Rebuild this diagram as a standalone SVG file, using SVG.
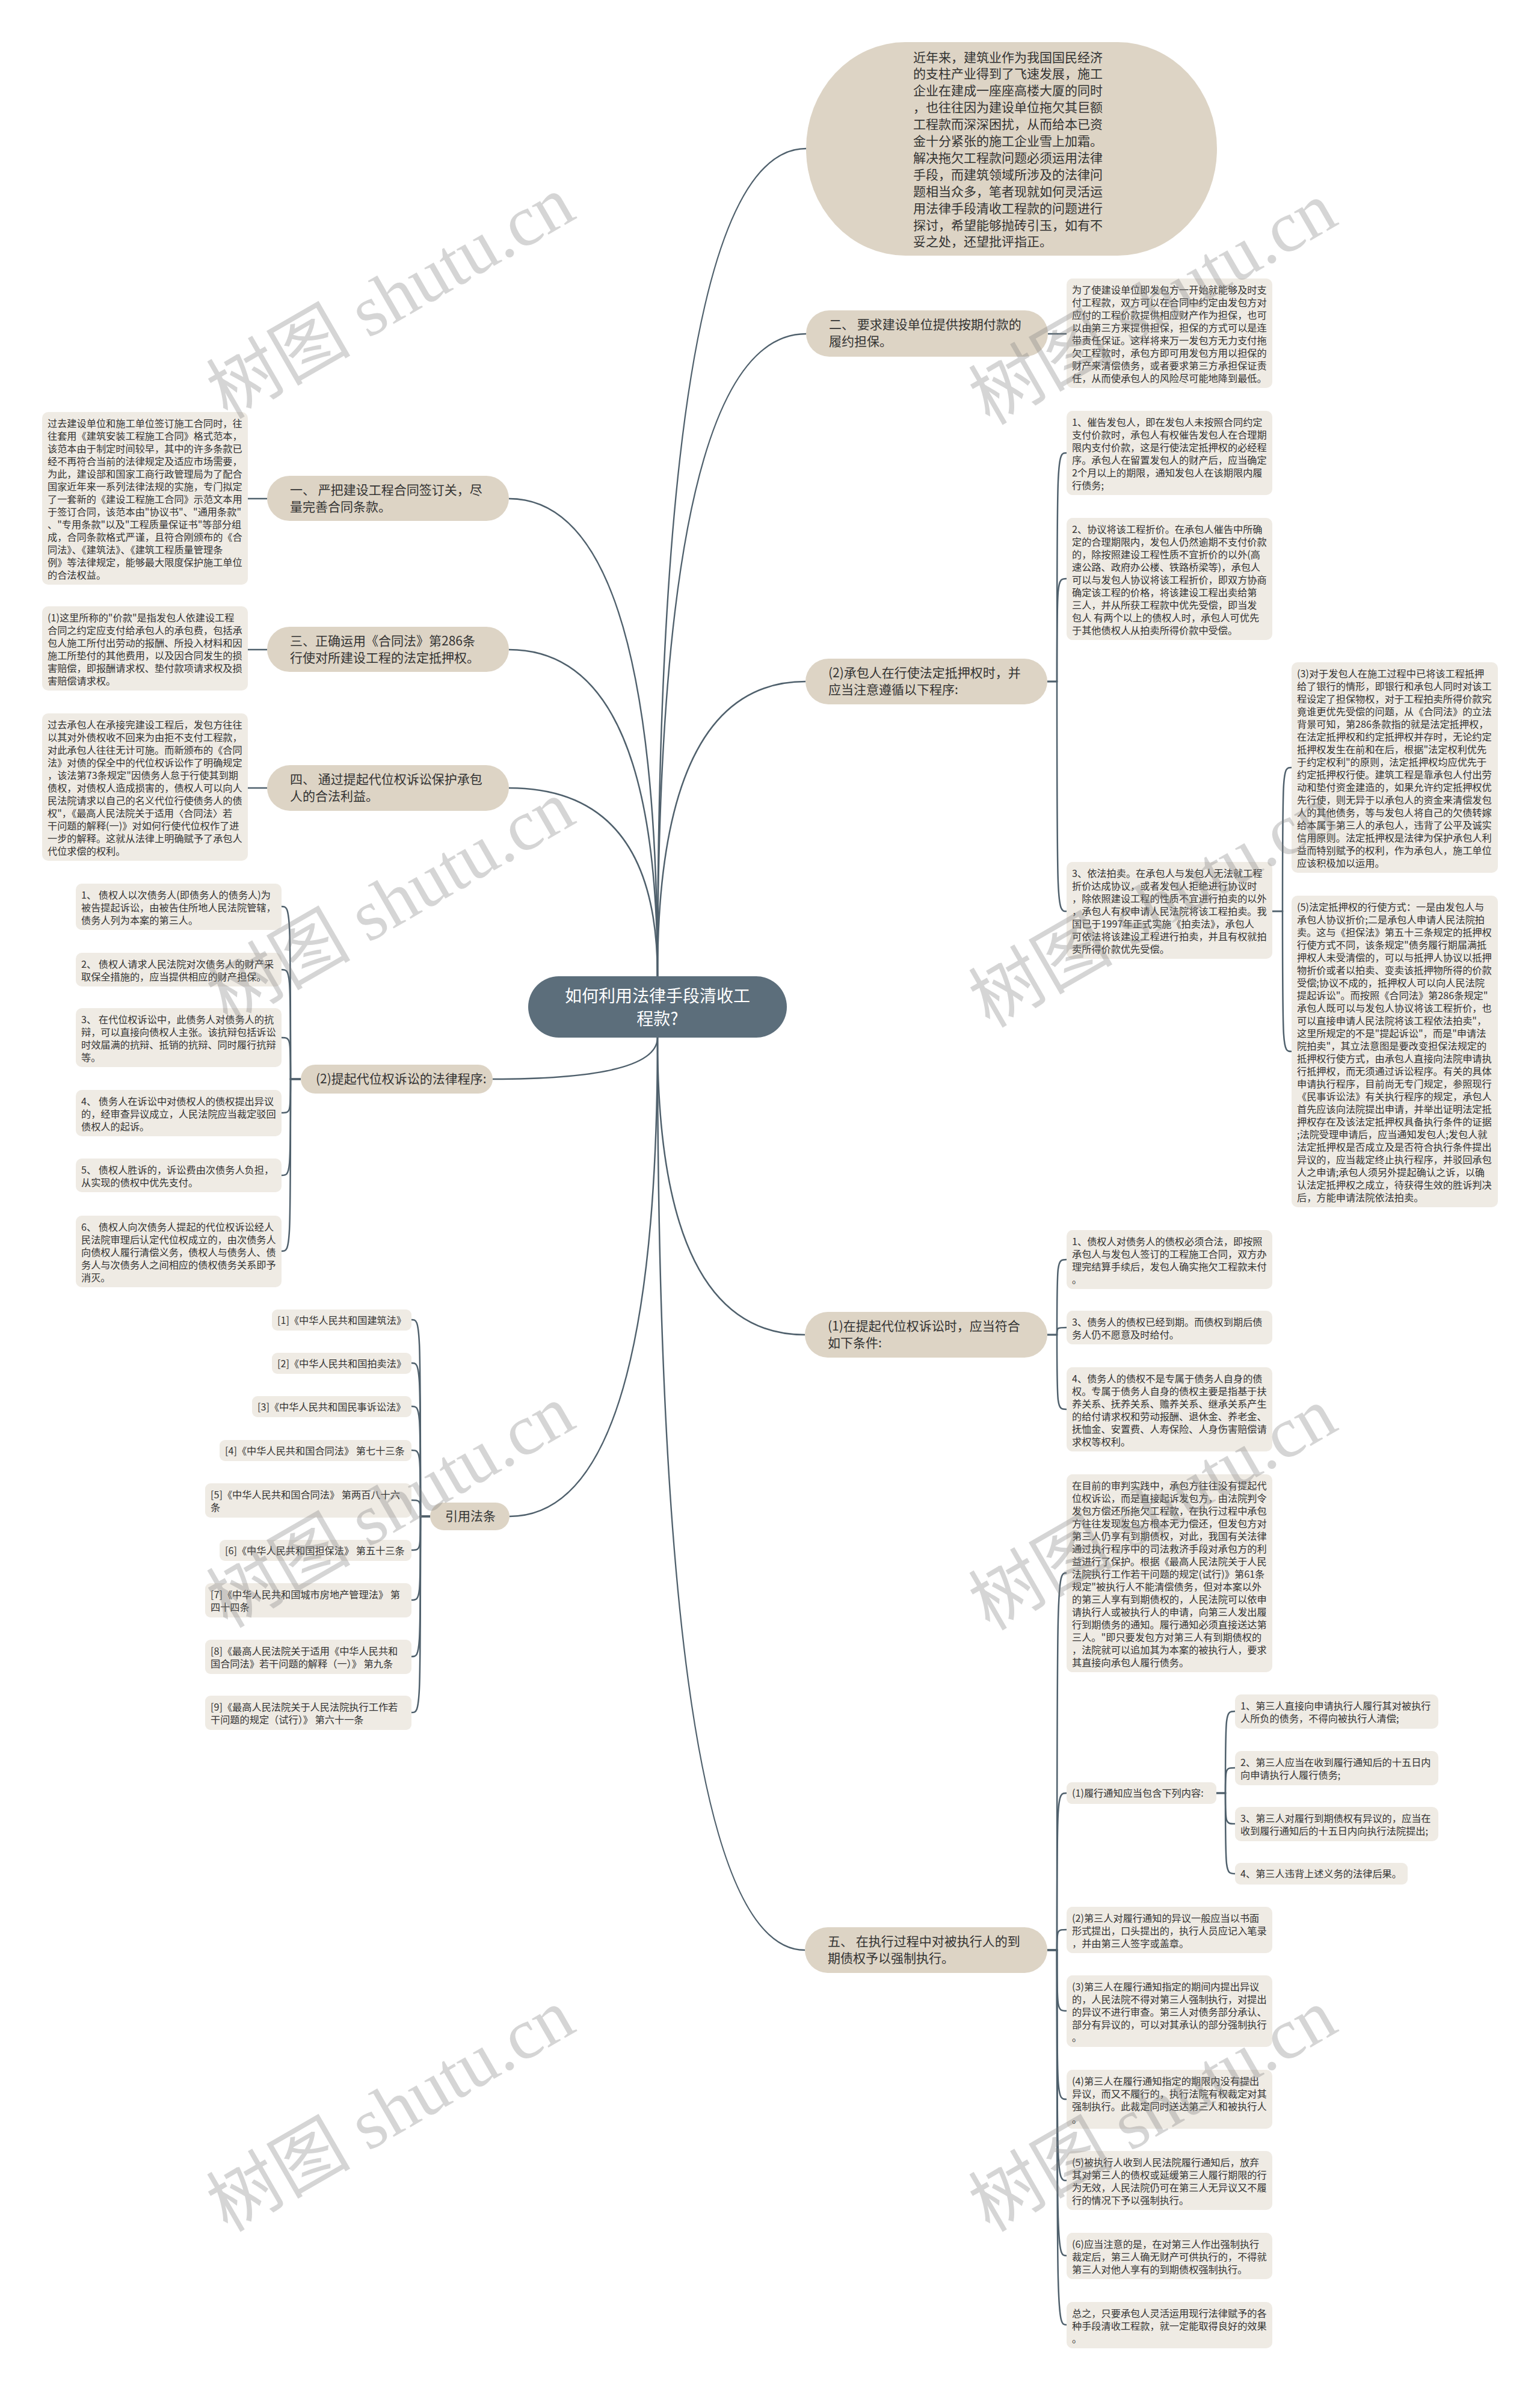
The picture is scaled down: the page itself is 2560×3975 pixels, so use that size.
<svg xmlns="http://www.w3.org/2000/svg" width="2560" height="3975" viewBox="0 0 2560 3975">
<style>
.nb{fill:#ddd4c5}
.db{fill:#efebe4}
.t{font-family:"Noto Sans CJK SC","Noto Sans",sans-serif;fill:#333}
.d{font-size:16.2px}
.n{font-size:21px}
.c{fill:none;stroke:#4f606c;stroke-width:2.5}
.wm{font-family:"Liberation Serif","Noto Sans CJK SC",serif;font-size:120px;fill:#808080;fill-opacity:0.33}
</style>
<rect width="2560" height="3975" fill="#ffffff"/>
<g id="connectors">
<path class="c" d="M1093 1623 Q1093 247 1340 247"/>
<path class="c" d="M1093 1623 Q1093 555 1340 555"/>
<path class="c" d="M1093 1623 Q1093 1133 1339 1133"/>
<path class="c" d="M1093 1623 Q1093 829 846 829"/>
<path class="c" d="M1093 1623 Q1093 1080 846 1080"/>
<path class="c" d="M1093 1623 Q1093 1310 846 1310"/>
<path class="c" d="M1093 1725 Q1093 1794 819 1794"/>
<path class="c" d="M1093 1725 Q1093 2521 847 2521"/>
<path class="c" d="M1093 1725 Q1093 2219 1338 2219"/>
<path class="c" d="M1093 1725 Q1093 3242 1338 3242"/>
<path class="c" d="M1742 555 H1773"/>
<path class="c" d="M412 829 H444"/>
<path class="c" d="M412 1080 H444"/>
<path class="c" d="M412 1310 H444"/>
<path class="c" d="M1741 1133 H1757 C1757 753 1757 753 1773 753"/>
<path class="c" d="M1741 1133 H1757 C1757 962 1757 962 1773 962"/>
<path class="c" d="M1741 1133 H1757 C1757 1515 1757 1515 1773 1515"/>
<path class="c" d="M2115 1515 H2132 C2132 1276 2132 1276 2147 1276"/>
<path class="c" d="M2115 1515 H2132 C2132 1748 2132 1748 2147 1748"/>
<path class="c" d="M1741 2219 H1757 C1757 2094 1757 2094 1773 2094"/>
<path class="c" d="M1741 2219 H1757 C1757 2207 1757 2207 1773 2207"/>
<path class="c" d="M1741 2219 H1757 C1757 2343 1757 2343 1773 2343"/>
<path class="c" d="M1741 3242 H1757 C1757 2615 1757 2615 1773 2615"/>
<path class="c" d="M1741 3242 H1757 C1757 2981 1757 2981 1773 2981"/>
<path class="c" d="M1741 3242 H1757 C1757 3208 1757 3208 1773 3208"/>
<path class="c" d="M1741 3242 H1757 C1757 3343 1757 3343 1773 3343"/>
<path class="c" d="M1741 3242 H1757 C1757 3490 1757 3490 1773 3490"/>
<path class="c" d="M1741 3242 H1757 C1757 3625 1757 3625 1773 3625"/>
<path class="c" d="M1741 3242 H1757 C1757 3750 1757 3750 1773 3750"/>
<path class="c" d="M1741 3242 H1757 C1757 3865 1757 3865 1773 3865"/>
<path class="c" d="M2022 2981 H2037 C2037 2845 2037 2845 2053 2845"/>
<path class="c" d="M2022 2981 H2037 C2037 2939 2037 2939 2053 2939"/>
<path class="c" d="M2022 2981 H2037 C2037 3032 2037 3032 2053 3032"/>
<path class="c" d="M2022 2981 H2037 C2037 3115 2037 3115 2053 3115"/>
<path class="c" d="M500 1794 H483 C483 1507 483 1507 468 1507"/>
<path class="c" d="M500 1794 H483 C483 1612 483 1612 468 1612"/>
<path class="c" d="M500 1794 H483 C483 1725 483 1725 468 1725"/>
<path class="c" d="M500 1794 H483 C483 1850 483 1850 468 1850"/>
<path class="c" d="M500 1794 H483 C483 1954 483 1954 468 1954"/>
<path class="c" d="M500 1794 H483 C483 2080 483 2080 468 2080"/>
<path class="c" d="M715 2521 H699 C699 2194 699 2194 684 2194"/>
<path class="c" d="M715 2521 H699 C699 2266 699 2266 684 2266"/>
<path class="c" d="M715 2521 H699 C699 2338 699 2338 684 2338"/>
<path class="c" d="M715 2521 H699 C699 2411 699 2411 684 2411"/>
<path class="c" d="M715 2521 H699 C699 2494 699 2494 684 2494"/>
<path class="c" d="M715 2521 H699 C699 2577 699 2577 684 2577"/>
<path class="c" d="M715 2521 H699 C699 2660 699 2660 684 2660"/>
<path class="c" d="M715 2521 H699 C699 2754 699 2754 684 2754"/>
<path class="c" d="M715 2521 H699 C699 2847 699 2847 684 2847"/>
</g>

<g id="root">
<rect x="878" y="1623" width="430" height="102" rx="51" fill="#5c6e7b"/>
<text class="t" style="font-size:28px;fill:#ffffff" text-anchor="middle"><tspan x="1093" y="1666">如何利用法律手段清收工</tspan><tspan x="1093" y="1704">程款?</tspan></text>
</g>

<g id="intro">
<rect class="nb" x="1340" y="70" width="683" height="355" rx="165" ry="177"/>
<text class="t n"><tspan x="1518" y="102.5">近年来，建筑业作为我国国民经济</tspan><tspan x="1518" y="130.4">的支柱产业得到了飞速发展，施工</tspan><tspan x="1518" y="158.3">企业在建成一座座高楼大厦的同时</tspan><tspan x="1518" y="186.2">，也往往因为建设单位拖欠其巨额</tspan><tspan x="1518" y="214.1">工程款而深深困扰，从而给本已资</tspan><tspan x="1518" y="242">金十分紧张的施工企业雪上加霜。</tspan><tspan x="1518" y="269.9">解决拖欠工程款问题必须运用法律</tspan><tspan x="1518" y="297.8">手段，而建筑领域所涉及的法律问</tspan><tspan x="1518" y="325.7">题相当众多，笔者现就如何灵活运</tspan><tspan x="1518" y="353.6">用法律手段清收工程款的问题进行</tspan><tspan x="1518" y="381.5">探讨，希望能够抛砖引玉，如有不</tspan><tspan x="1518" y="409.4">妥之处，还望批评指正。</tspan></text>
</g>

<g id="n2">
<rect class="nb" x="1340" y="516" width="402" height="77" rx="38.5"/>
<text class="t n"><tspan x="1378" y="547">二、 要求建设单位提供按期付款的</tspan><tspan x="1378" y="575">履约担保。</tspan></text>
</g>
<g id="r0">
<rect class="db" x="1773" y="463" width="342" height="182" rx="10"/>
<text class="t d"><tspan x="1782" y="488">为了使建设单位即发包方一开始就能够及时支</tspan><tspan x="1782" y="509">付工程款，双方可以在合同中约定由发包方对</tspan><tspan x="1782" y="530">应付的工程价款提供相应财产作为担保，也可</tspan><tspan x="1782" y="551">以由第三方来提供担保，担保的方式可以是连</tspan><tspan x="1782" y="572">带责任保证。这样将来万一发包方无力支付拖</tspan><tspan x="1782" y="593">欠工程款时，承包方即可用发包方用以担保的</tspan><tspan x="1782" y="614">财产来清偿债务，或者要求第三方承担保证责</tspan><tspan x="1782" y="635">任，从而使承包人的风险尽可能地降到最低。</tspan></text>
</g>

<g id="n1">
<rect class="nb" x="444" y="791" width="402" height="75" rx="37.5"/>
<text class="t n"><tspan x="482" y="822">一、 严把建设工程合同签订关，尽</tspan><tspan x="482" y="850">量完善合同条款。</tspan></text>
</g>
<g id="l0">
<rect class="db" x="70" y="685" width="342" height="287" rx="10"/>
<text class="t d"><tspan x="79" y="710">过去建设单位和施工单位签订施工合同时，往</tspan><tspan x="79" y="731">往套用《建筑安装工程施工合同》格式范本，</tspan><tspan x="79" y="752">该范本由于制定时间较早，其中的许多条款已</tspan><tspan x="79" y="773">经不再符合当前的法律规定及适应市场需要，</tspan><tspan x="79" y="794">为此，建设部和国家工商行政管理局为了配合</tspan><tspan x="79" y="815">国家近年来一系列法律法规的实施，专门拟定</tspan><tspan x="79" y="836">了一套新的《建设工程施工合同》示范文本用</tspan><tspan x="79" y="857">于签订合同，该范本由"协议书"、"通用条款"</tspan><tspan x="79" y="878">、"专用条款"以及"工程质量保证书"等部分组</tspan><tspan x="79" y="899">成，合同条款格式严谨，且符合刚颁布的《合</tspan><tspan x="79" y="920">同法》、《建筑法》、《建筑工程质量管理条</tspan><tspan x="79" y="941">例》等法律规定，能够最大限度保护施工单位</tspan><tspan x="79" y="962">的合法权益。</tspan></text>
</g>

<g id="n3">
<rect class="nb" x="444" y="1042" width="402" height="75" rx="37.5"/>
<text class="t n"><tspan x="482" y="1073">三、正确运用《合同法》第286条</tspan><tspan x="482" y="1101">行使对所建设工程的法定抵押权。</tspan></text>
</g>
<g id="l1">
<rect class="db" x="70" y="1008" width="342" height="140" rx="10"/>
<text class="t d"><tspan x="79" y="1033">(1)这里所称的"价款"是指发包人依建设工程</tspan><tspan x="79" y="1054">合同之约定应支付给承包人的承包费，包括承</tspan><tspan x="79" y="1075">包人施工所付出劳动的报酬、所投入材料和因</tspan><tspan x="79" y="1096">施工所垫付的其他费用，以及因合同发生的损</tspan><tspan x="79" y="1117">害赔偿，即报酬请求权、垫付款项请求权及损</tspan><tspan x="79" y="1138">害赔偿请求权。</tspan></text>
</g>

<g id="n4">
<rect class="nb" x="444" y="1272" width="402" height="76" rx="38"/>
<text class="t n"><tspan x="482" y="1303">四、 通过提起代位权诉讼保护承包</tspan><tspan x="482" y="1331">人的合法利益。</tspan></text>
</g>
<g id="l2">
<rect class="db" x="70" y="1186" width="342" height="245" rx="10"/>
<text class="t d"><tspan x="79" y="1211">过去承包人在承接完建设工程后，发包方往往</tspan><tspan x="79" y="1232">以其对外债权收不回来为由拒不支付工程款，</tspan><tspan x="79" y="1253">对此承包人往往无计可施。而新颁布的《合同</tspan><tspan x="79" y="1274">法》对债的保全中的代位权诉讼作了明确规定</tspan><tspan x="79" y="1295">，该法第73条规定"因债务人怠于行使其到期</tspan><tspan x="79" y="1316">债权，对债权人造成损害的，债权人可以向人</tspan><tspan x="79" y="1337">民法院请求以自己的名义代位行使债务人的债</tspan><tspan x="79" y="1358">权"，《最高人民法院关于适用〈合同法〉若</tspan><tspan x="79" y="1379">干问题的解释(一)》对如何行使代位权作了进</tspan><tspan x="79" y="1400">一步的解释。这就从法律上明确赋予了承包人</tspan><tspan x="79" y="1421">代位求偿的权利。</tspan></text>
</g>

<g id="n2b">
<rect class="nb" x="1339" y="1095" width="402" height="76" rx="38"/>
<text class="t n"><tspan x="1377" y="1126">(2)承包人在行使法定抵押权时，并</tspan><tspan x="1377" y="1154">应当注意遵循以下程序:</tspan></text>
</g>
<g id="r1">
<rect class="db" x="1773" y="683" width="342" height="140" rx="10"/>
<text class="t d"><tspan x="1782" y="708">1、催告发包人，即在发包人未按照合同约定</tspan><tspan x="1782" y="729">支付价款时，承包人有权催告发包人在合理期</tspan><tspan x="1782" y="750">限内支付价款，这是行使法定抵押权的必经程</tspan><tspan x="1782" y="771">序。承包人在留置发包人的财产后，应当确定</tspan><tspan x="1782" y="792">2个月以上的期限，通知发包人在该期限内履</tspan><tspan x="1782" y="813">行债务;</tspan></text>
</g>
<g id="r2">
<rect class="db" x="1773" y="861" width="342" height="203" rx="10"/>
<text class="t d"><tspan x="1782" y="886">2、协议将该工程折价。在承包人催告中所确</tspan><tspan x="1782" y="907">定的合理期限内，发包人仍然逾期不支付价款</tspan><tspan x="1782" y="928">的，除按照建设工程性质不宜折价的以外(高</tspan><tspan x="1782" y="949">速公路、政府办公楼、铁路桥梁等)，承包人</tspan><tspan x="1782" y="970">可以与发包人协议将该工程折价，即双方协商</tspan><tspan x="1782" y="991">确定该工程的价格，将该建设工程出卖给第</tspan><tspan x="1782" y="1012">三人，并从所获工程款中优先受偿，即当发</tspan><tspan x="1782" y="1033">包人 有两个以上的债权人时，承包人可优先</tspan><tspan x="1782" y="1054">于其他债权人从拍卖所得价款中受偿。</tspan></text>
</g>
<g id="r3">
<rect class="db" x="1773" y="1433" width="342" height="161" rx="10"/>
<text class="t d"><tspan x="1782" y="1458">3、依法拍卖。在承包人与发包人无法就工程</tspan><tspan x="1782" y="1479">折价达成协议，或者发包人拒绝进行协议时</tspan><tspan x="1782" y="1500">，除依照建设工程的性质不宜进行拍卖的以外</tspan><tspan x="1782" y="1521">，承包人有权申请人民法院将该工程拍卖。我</tspan><tspan x="1782" y="1542">国已于1997年正式实施《拍卖法》，承包人</tspan><tspan x="1782" y="1563">可依法将该建设工程进行拍卖，并且有权就拍</tspan><tspan x="1782" y="1584">卖所得价款优先受偿。</tspan></text>
</g>
<g id="r4">
<rect class="db" x="2147" y="1101" width="343" height="350" rx="10"/>
<text class="t d"><tspan x="2156" y="1126">(3)对于发包人在施工过程中已将该工程抵押</tspan><tspan x="2156" y="1147">给了银行的情形，即银行和承包人同时对该工</tspan><tspan x="2156" y="1168">程设定了担保物权，对于工程拍卖所得价款究</tspan><tspan x="2156" y="1189">竟谁更优先受偿的问题，从《合同法》的立法</tspan><tspan x="2156" y="1210">背景可知，第286条款指的就是法定抵押权，</tspan><tspan x="2156" y="1231">在法定抵押权和约定抵押权并存时，无论约定</tspan><tspan x="2156" y="1252">抵押权发生在前和在后，根据"法定权利优先</tspan><tspan x="2156" y="1273">于约定权利"的原则，法定抵押权均应优先于</tspan><tspan x="2156" y="1294">约定抵押权行使。建筑工程是靠承包人付出劳</tspan><tspan x="2156" y="1315">动和垫付资金建造的，如果允许约定抵押权优</tspan><tspan x="2156" y="1336">先行使，则无异于以承包人的资金来清偿发包</tspan><tspan x="2156" y="1357">人的其他债务，等与发包人将自己的欠债转嫁</tspan><tspan x="2156" y="1378">给本属于第三人的承包人，违背了公平及诚实</tspan><tspan x="2156" y="1399">信用原则。法定抵押权是法律为保护承包人利</tspan><tspan x="2156" y="1420">益而特别赋予的权利，作为承包人，施工单位</tspan><tspan x="2156" y="1441">应该积极加以运用。</tspan></text>
</g>
<g id="r5">
<rect class="db" x="2147" y="1489" width="343" height="518" rx="10"/>
<text class="t d"><tspan x="2156" y="1514">(5)法定抵押权的行使方式：一是由发包人与</tspan><tspan x="2156" y="1535">承包人协议折价;二是承包人申请人民法院拍</tspan><tspan x="2156" y="1556">卖。这与《担保法》第五十三条规定的抵押权</tspan><tspan x="2156" y="1577">行使方式不同，该条规定"债务履行期届满抵</tspan><tspan x="2156" y="1598">押权人未受清偿的，可以与抵押人协议以抵押</tspan><tspan x="2156" y="1619">物折价或者以拍卖、变卖该抵押物所得的价款</tspan><tspan x="2156" y="1640">受偿;协议不成的，抵押权人可以向人民法院</tspan><tspan x="2156" y="1661">提起诉讼"。而按照《合同法》第286条规定"</tspan><tspan x="2156" y="1682">承包人既可以与发包人协议将该工程折价，也</tspan><tspan x="2156" y="1703">可以直接申请人民法院将该工程依法拍卖"，</tspan><tspan x="2156" y="1724">这里所规定的不是"提起诉讼"，而是"申请法</tspan><tspan x="2156" y="1745">院拍卖"，其立法意图是要改变担保法规定的</tspan><tspan x="2156" y="1766">抵押权行使方式，由承包人直接向法院申请执</tspan><tspan x="2156" y="1787">行抵押权，而无须通过诉讼程序。有关的具体</tspan><tspan x="2156" y="1808">申请执行程序，目前尚无专门规定，参照现行</tspan><tspan x="2156" y="1829">《民事诉讼法》有关执行程序的规定，承包人</tspan><tspan x="2156" y="1850">首先应该向法院提出申请，并举出证明法定抵</tspan><tspan x="2156" y="1871">押权存在及该法定抵押权具备执行条件的证据</tspan><tspan x="2156" y="1892">;法院受理申请后，应当通知发包人;发包人就</tspan><tspan x="2156" y="1913">法定抵押权是否成立及是否符合执行条件提出</tspan><tspan x="2156" y="1934">异议的，应当裁定终止执行程序，并驳回承包</tspan><tspan x="2156" y="1955">人之申请;承包人须另外提起确认之诉，以确</tspan><tspan x="2156" y="1976">认法定抵押权之成立，待获得生效的胜诉判决</tspan><tspan x="2156" y="1997">后，方能申请法院依法拍卖。</tspan></text>
</g>

<g id="n2c">
<rect class="nb" x="500" y="1770" width="319" height="48" rx="24"/>
<text class="t n"><tspan x="525" y="1801">(2)提起代位权诉讼的法律程序:</tspan></text>
</g>
<g id="l3">
<rect class="db" x="126" y="1469" width="342" height="77" rx="10"/>
<text class="t d"><tspan x="135" y="1494">1、 债权人以次债务人(即债务人的债务人)为</tspan><tspan x="135" y="1515">被告提起诉讼，由被告住所地人民法院管辖，</tspan><tspan x="135" y="1536">债务人列为本案的第三人。</tspan></text>
</g>
<g id="l4">
<rect class="db" x="126" y="1584" width="342" height="56" rx="10"/>
<text class="t d"><tspan x="135" y="1609">2、 债权人请求人民法院对次债务人的财产采</tspan><tspan x="135" y="1630">取保全措施的，应当提供相应的财产担保。</tspan></text>
</g>
<g id="l5">
<rect class="db" x="126" y="1676" width="342" height="98" rx="10"/>
<text class="t d"><tspan x="135" y="1701">3、 在代位权诉讼中，此债务人对债务人的抗</tspan><tspan x="135" y="1722">辩，可以直接向债权人主张。该抗辩包括诉讼</tspan><tspan x="135" y="1743">时效届满的抗辩、抵销的抗辩、同时履行抗辩</tspan><tspan x="135" y="1764">等。</tspan></text>
</g>
<g id="l6">
<rect class="db" x="126" y="1812" width="342" height="77" rx="10"/>
<text class="t d"><tspan x="135" y="1837">4、 债务人在诉讼中对债权人的债权提出异议</tspan><tspan x="135" y="1858">的，经审查异议成立，人民法院应当裁定驳回</tspan><tspan x="135" y="1879">债权人的起诉。</tspan></text>
</g>
<g id="l7">
<rect class="db" x="126" y="1926" width="342" height="56" rx="10"/>
<text class="t d"><tspan x="135" y="1951">5、 债权人胜诉的，诉讼费由次债务人负担，</tspan><tspan x="135" y="1972">从实现的债权中优先支付。</tspan></text>
</g>
<g id="l8">
<rect class="db" x="126" y="2021" width="342" height="119" rx="10"/>
<text class="t d"><tspan x="135" y="2046">6、 债权人向次债务人提起的代位权诉讼经人</tspan><tspan x="135" y="2067">民法院审理后认定代位权成立的，由次债务人</tspan><tspan x="135" y="2088">向债权人履行清偿义务，债权人与债务人、债</tspan><tspan x="135" y="2109">务人与次债务人之间相应的债权债务关系即予</tspan><tspan x="135" y="2130">消灭。</tspan></text>
</g>

<g id="n1b">
<rect class="nb" x="1338" y="2181" width="403" height="76" rx="38"/>
<text class="t n"><tspan x="1376" y="2212">(1)在提起代位权诉讼时，应当符合</tspan><tspan x="1376" y="2240">如下条件:</tspan></text>
</g>
<g id="r6">
<rect class="db" x="1773" y="2045" width="342" height="98" rx="10"/>
<text class="t d"><tspan x="1782" y="2070">1、债权人对债务人的债权必须合法，即按照</tspan><tspan x="1782" y="2091">承包人与发包人签订的工程施工合同，双方办</tspan><tspan x="1782" y="2112">理完结算手续后，发包人确实拖欠工程款未付</tspan><tspan x="1782" y="2133">。</tspan></text>
</g>
<g id="r7">
<rect class="db" x="1773" y="2179" width="342" height="56" rx="10"/>
<text class="t d"><tspan x="1782" y="2204">3、债务人的债权已经到期。而债权到期后债</tspan><tspan x="1782" y="2225">务人仍不愿意及时给付。</tspan></text>
</g>
<g id="r8">
<rect class="db" x="1773" y="2273" width="342" height="140" rx="10"/>
<text class="t d"><tspan x="1782" y="2298">4、债务人的债权不是专属于债务人自身的债</tspan><tspan x="1782" y="2319">权。专属于债务人自身的债权主要是指基于扶</tspan><tspan x="1782" y="2340">养关系、抚养关系、赡养关系、继承关系产生</tspan><tspan x="1782" y="2361">的给付请求权和劳动报酬、退休金、养老金、</tspan><tspan x="1782" y="2382">抚恤金、安置费、人寿保险、人身伤害赔偿请</tspan><tspan x="1782" y="2403">求权等权利。</tspan></text>
</g>

<g id="laws">
<rect class="nb" x="715" y="2498" width="132" height="46" rx="23"/>
<text class="t n"><tspan x="740" y="2528">引用法条</tspan></text>
</g>
<g id="law1"><rect class="db" x="452" y="2177" width="232" height="35" rx="9"/><text class="t d"><tspan x="461" y="2201">[1]《中华人民共和国建筑法》</tspan></text></g>
<g id="law2"><rect class="db" x="452" y="2249" width="232" height="35" rx="9"/><text class="t d"><tspan x="461" y="2273">[2]《中华人民共和国拍卖法》</tspan></text></g>
<g id="law3"><rect class="db" x="419" y="2321" width="265" height="35" rx="9"/><text class="t d"><tspan x="428" y="2345">[3]《中华人民共和国民事诉讼法》</tspan></text></g>
<g id="law4"><rect class="db" x="365" y="2394" width="319" height="35" rx="9"/><text class="t d"><tspan x="374" y="2418">[4]《中华人民共和国合同法》 第七十三条</tspan></text></g>
<g id="law5"><rect class="db" x="341" y="2466" width="343" height="57" rx="9"/><text class="t d"><tspan x="350" y="2491">[5]《中华人民共和国合同法》 第两百八十六</tspan><tspan x="350" y="2512">条</tspan></text></g>
<g id="law6"><rect class="db" x="365" y="2560" width="319" height="35" rx="9"/><text class="t d"><tspan x="374" y="2584">[6]《中华人民共和国担保法》 第五十三条</tspan></text></g>
<g id="law7"><rect class="db" x="341" y="2632" width="343" height="57" rx="9"/><text class="t d"><tspan x="350" y="2657">[7]《中华人民共和国城市房地产管理法》 第</tspan><tspan x="350" y="2678">四十四条</tspan></text></g>
<g id="law8"><rect class="db" x="341" y="2726" width="343" height="57" rx="9"/><text class="t d"><tspan x="350" y="2751">[8]《最高人民法院关于适用《中华人民共和</tspan><tspan x="350" y="2772">国合同法》若干问题的解释（一）》 第九条</tspan></text></g>
<g id="law9"><rect class="db" x="341" y="2819" width="343" height="57" rx="9"/><text class="t d"><tspan x="350" y="2844">[9]《最高人民法院关于人民法院执行工作若</tspan><tspan x="350" y="2865">干问题的规定（试行）》 第六十一条</tspan></text></g>

<g id="n5">
<rect class="nb" x="1338" y="3204" width="403" height="76" rx="38"/>
<text class="t n"><tspan x="1376" y="3235">五、 在执行过程中对被执行人的到</tspan><tspan x="1376" y="3263">期债权予以强制执行。</tspan></text>
</g>
<g id="r9">
<rect class="db" x="1773" y="2451" width="342" height="329" rx="10"/>
<text class="t d"><tspan x="1782" y="2476">在目前的审判实践中，承包方往往没有提起代</tspan><tspan x="1782" y="2497">位权诉讼，而是直接起诉发包方，由法院判令</tspan><tspan x="1782" y="2518">发包方偿还所拖欠工程款，在执行过程中承包</tspan><tspan x="1782" y="2539">方往往发现发包方根本无力偿还，但发包方对</tspan><tspan x="1782" y="2560">第三人仍享有到期债权，对此，我国有关法律</tspan><tspan x="1782" y="2581">通过执行程序中的司法救济手段对承包方的利</tspan><tspan x="1782" y="2602">益进行了保护。根据《最高人民法院关于人民</tspan><tspan x="1782" y="2623">法院执行工作若干问题的规定(试行)》第61条</tspan><tspan x="1782" y="2644">规定"被执行人不能清偿债务，但对本案以外</tspan><tspan x="1782" y="2665">的第三人享有到期债权的，人民法院可以依申</tspan><tspan x="1782" y="2686">请执行人或被执行人的申请，向第三人发出履</tspan><tspan x="1782" y="2707">行到期债务的通知。履行通知必须直接送达第</tspan><tspan x="1782" y="2728">三人。"即只要发包方对第三人有到期债权的</tspan><tspan x="1782" y="2749">，法院就可以追加其为本案的被执行人，要求</tspan><tspan x="1782" y="2770">其直接向承包人履行债务。</tspan></text>
</g>
<g id="r10">
<rect class="db" x="1773" y="2963" width="249" height="36" rx="9"/>
<text class="t d"><tspan x="1782" y="2987">(1)履行通知应当包含下列内容:</tspan></text>
</g>
<g id="r11">
<rect class="db" x="2053" y="2817" width="338" height="57" rx="10"/>
<text class="t d"><tspan x="2062" y="2842">1、第三人直接向申请执行人履行其对被执行</tspan><tspan x="2062" y="2863">人所负的债务，不得向被执行人清偿;</tspan></text>
</g>
<g id="r12">
<rect class="db" x="2053" y="2911" width="338" height="57" rx="10"/>
<text class="t d"><tspan x="2062" y="2936">2、第三人应当在收到履行通知后的十五日内</tspan><tspan x="2062" y="2957">向申请执行人履行债务;</tspan></text>
</g>
<g id="r13">
<rect class="db" x="2053" y="3004" width="338" height="57" rx="10"/>
<text class="t d"><tspan x="2062" y="3029">3、第三人对履行到期债权有异议的，应当在</tspan><tspan x="2062" y="3050">收到履行通知后的十五日内向执行法院提出;</tspan></text>
</g>
<g id="r14">
<rect class="db" x="2053" y="3097" width="287" height="36" rx="9"/>
<text class="t d"><tspan x="2062" y="3121">4、第三人违背上述义务的法律后果。</tspan></text>
</g>
<g id="r15">
<rect class="db" x="1773" y="3170" width="342" height="77" rx="10"/>
<text class="t d"><tspan x="1782" y="3195">(2)第三人对履行通知的异议一般应当以书面</tspan><tspan x="1782" y="3216">形式提出，口头提出的，执行人员应记入笔录</tspan><tspan x="1782" y="3237">，并由第三人签字或盖章。</tspan></text>
</g>
<g id="r16">
<rect class="db" x="1773" y="3284" width="342" height="119" rx="10"/>
<text class="t d"><tspan x="1782" y="3309">(3)第三人在履行通知指定的期间内提出异议</tspan><tspan x="1782" y="3330">的，人民法院不得对第三人强制执行，对提出</tspan><tspan x="1782" y="3351">的异议不进行审查。第三人对债务部分承认、</tspan><tspan x="1782" y="3372">部分有异议的，可以对其承认的部分强制执行</tspan><tspan x="1782" y="3393">。</tspan></text>
</g>
<g id="r17">
<rect class="db" x="1773" y="3441" width="342" height="98" rx="10"/>
<text class="t d"><tspan x="1782" y="3466">(4)第三人在履行通知指定的期限内没有提出</tspan><tspan x="1782" y="3487">异议，而又不履行的，执行法院有权裁定对其</tspan><tspan x="1782" y="3508">强制执行。此裁定同时送达第三人和被执行人</tspan><tspan x="1782" y="3529">。</tspan></text>
</g>
<g id="r18">
<rect class="db" x="1773" y="3576" width="342" height="98" rx="10"/>
<text class="t d"><tspan x="1782" y="3601">(5)被执行人收到人民法院履行通知后，放弃</tspan><tspan x="1782" y="3622">其对第三人的债权或延缓第三人履行期限的行</tspan><tspan x="1782" y="3643">为无效，人民法院仍可在第三人无异议又不履</tspan><tspan x="1782" y="3664">行的情况下予以强制执行。</tspan></text>
</g>
<g id="r19">
<rect class="db" x="1773" y="3712" width="342" height="77" rx="10"/>
<text class="t d"><tspan x="1782" y="3737">(6)应当注意的是，在对第三人作出强制执行</tspan><tspan x="1782" y="3758">裁定后，第三人确无财产可供执行的，不得就</tspan><tspan x="1782" y="3779">第三人对他人享有的到期债权强制执行。</tspan></text>
</g>
<g id="r20">
<rect class="db" x="1773" y="3827" width="342" height="77" rx="10"/>
<text class="t d"><tspan x="1782" y="3852">总之，只要承包人灵活运用现行法律赋予的各</tspan><tspan x="1782" y="3873">种手段清收工程款，就一定能取得良好的效果</tspan><tspan x="1782" y="3894">。</tspan></text>
</g>

<g id="watermarks">
<text class="wm" transform="translate(378 698) rotate(-30)">树图 shutu.cn</text>
<text class="wm" transform="translate(1645 708) rotate(-30)">树图 shutu.cn</text>
<text class="wm" transform="translate(378 1703) rotate(-30)">树图 shutu.cn</text>
<text class="wm" transform="translate(1645 1710) rotate(-30)">树图 shutu.cn</text>
<text class="wm" transform="translate(378 2708) rotate(-30)">树图 shutu.cn</text>
<text class="wm" transform="translate(1645 2712) rotate(-30)">树图 shutu.cn</text>
<text class="wm" transform="translate(378 3712) rotate(-30)">树图 shutu.cn</text>
<text class="wm" transform="translate(1645 3712) rotate(-30)">树图 shutu.cn</text>
</g>
</svg>
